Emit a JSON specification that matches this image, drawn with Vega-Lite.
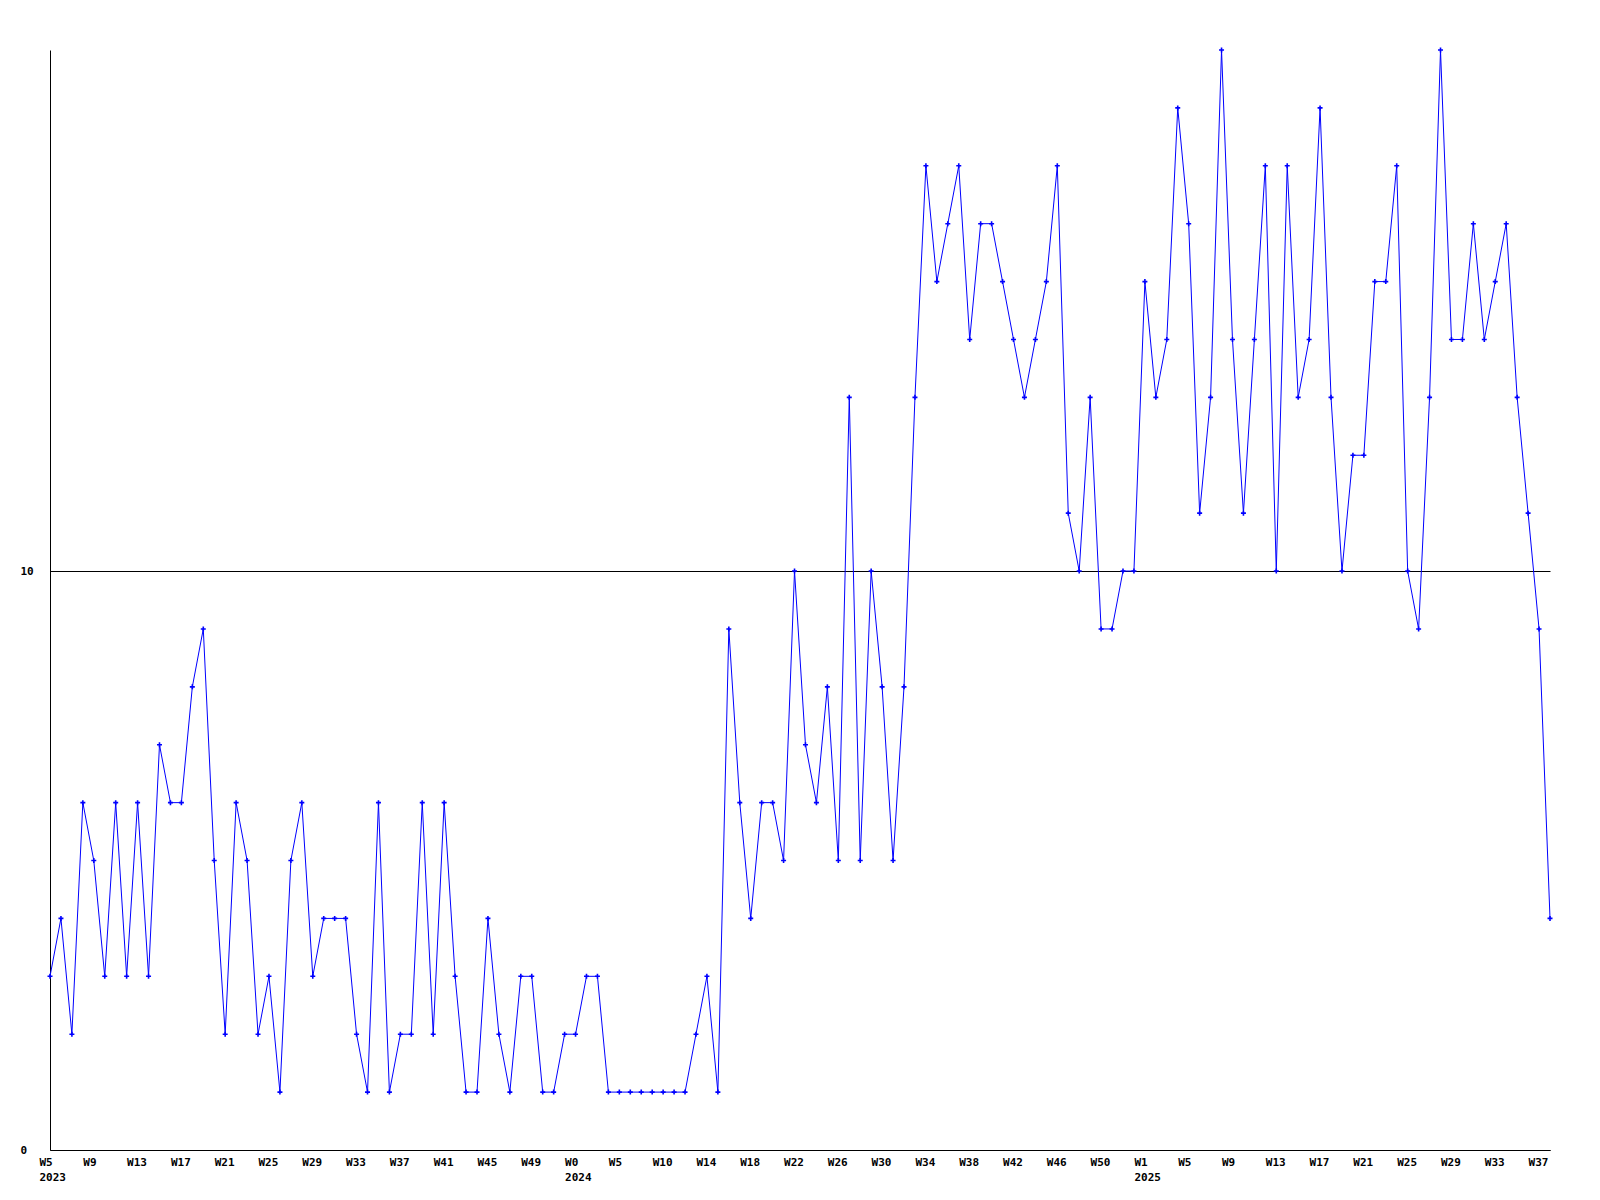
{
  "$schema": "https://vega.github.io/schema/vega-lite/v6.json",
  "width": 1500,
  "height": 1100,
  "autosize": {"type": "none"},
  "padding": {"left": 50, "top": 50, "right": 50, "bottom": 50},
  "background": "white",
  "config": {"view": {"stroke": null}},
  "data": {"values": [
    {"week": 0, "count": 3}, {"week": 1, "count": 4}, {"week": 2, "count": 2}, {"week": 3, "count": 6}, {"week": 4, "count": 5},
    {"week": 5, "count": 3}, {"week": 6, "count": 6}, {"week": 7, "count": 3}, {"week": 8, "count": 6}, {"week": 9, "count": 3},
    {"week": 10, "count": 7}, {"week": 11, "count": 6}, {"week": 12, "count": 6}, {"week": 13, "count": 8}, {"week": 14, "count": 9},
    {"week": 15, "count": 5}, {"week": 16, "count": 2}, {"week": 17, "count": 6}, {"week": 18, "count": 5}, {"week": 19, "count": 2},
    {"week": 20, "count": 3}, {"week": 21, "count": 1}, {"week": 22, "count": 5}, {"week": 23, "count": 6}, {"week": 24, "count": 3},
    {"week": 25, "count": 4}, {"week": 26, "count": 4}, {"week": 27, "count": 4}, {"week": 28, "count": 2}, {"week": 29, "count": 1},
    {"week": 30, "count": 6}, {"week": 31, "count": 1}, {"week": 32, "count": 2}, {"week": 33, "count": 2}, {"week": 34, "count": 6},
    {"week": 35, "count": 2}, {"week": 36, "count": 6}, {"week": 37, "count": 3}, {"week": 38, "count": 1}, {"week": 39, "count": 1},
    {"week": 40, "count": 4}, {"week": 41, "count": 2}, {"week": 42, "count": 1}, {"week": 43, "count": 3}, {"week": 44, "count": 3},
    {"week": 45, "count": 1}, {"week": 46, "count": 1}, {"week": 47, "count": 2}, {"week": 48, "count": 2}, {"week": 49, "count": 3},
    {"week": 50, "count": 3}, {"week": 51, "count": 1}, {"week": 52, "count": 1}, {"week": 53, "count": 1}, {"week": 54, "count": 1},
    {"week": 55, "count": 1}, {"week": 56, "count": 1}, {"week": 57, "count": 1}, {"week": 58, "count": 1}, {"week": 59, "count": 2},
    {"week": 60, "count": 3}, {"week": 61, "count": 1}, {"week": 62, "count": 9}, {"week": 63, "count": 6}, {"week": 64, "count": 4},
    {"week": 65, "count": 6}, {"week": 66, "count": 6}, {"week": 67, "count": 5}, {"week": 68, "count": 10}, {"week": 69, "count": 7},
    {"week": 70, "count": 6}, {"week": 71, "count": 8}, {"week": 72, "count": 5}, {"week": 73, "count": 13}, {"week": 74, "count": 5},
    {"week": 75, "count": 10}, {"week": 76, "count": 8}, {"week": 77, "count": 5}, {"week": 78, "count": 8}, {"week": 79, "count": 13},
    {"week": 80, "count": 17}, {"week": 81, "count": 15}, {"week": 82, "count": 16}, {"week": 83, "count": 17}, {"week": 84, "count": 14},
    {"week": 85, "count": 16}, {"week": 86, "count": 16}, {"week": 87, "count": 15}, {"week": 88, "count": 14}, {"week": 89, "count": 13},
    {"week": 90, "count": 14}, {"week": 91, "count": 15}, {"week": 92, "count": 17}, {"week": 93, "count": 11}, {"week": 94, "count": 10},
    {"week": 95, "count": 13}, {"week": 96, "count": 9}, {"week": 97, "count": 9}, {"week": 98, "count": 10}, {"week": 99, "count": 10},
    {"week": 100, "count": 15}, {"week": 101, "count": 13}, {"week": 102, "count": 14}, {"week": 103, "count": 18}, {"week": 104, "count": 16},
    {"week": 105, "count": 11}, {"week": 106, "count": 13}, {"week": 107, "count": 19}, {"week": 108, "count": 14}, {"week": 109, "count": 11},
    {"week": 110, "count": 14}, {"week": 111, "count": 17}, {"week": 112, "count": 10}, {"week": 113, "count": 17}, {"week": 114, "count": 13},
    {"week": 115, "count": 14}, {"week": 116, "count": 18}, {"week": 117, "count": 13}, {"week": 118, "count": 10}, {"week": 119, "count": 12},
    {"week": 120, "count": 12}, {"week": 121, "count": 15}, {"week": 122, "count": 15}, {"week": 123, "count": 17}, {"week": 124, "count": 10},
    {"week": 125, "count": 9}, {"week": 126, "count": 13}, {"week": 127, "count": 19}, {"week": 128, "count": 14}, {"week": 129, "count": 14},
    {"week": 130, "count": 16}, {"week": 131, "count": 14}, {"week": 132, "count": 15}, {"week": 133, "count": 16}, {"week": 134, "count": 13},
    {"week": 135, "count": 11}, {"week": 136, "count": 9}, {"week": 137, "count": 4}
  ]},
  "encoding": {
    "x": {
      "field": "week", "type": "quantitative",
      "scale": {"domain": [0, 137], "nice": false, "zero": false},
      "axis": {
        "title": null,
        "values": [0,4,8,12,16,20,24,28,32,36,40,44,48,52,56,60,64,68,72,76,80,84,88,92,96,100,104,108,112,116,120,124,128,132,136],
        "labelExpr": "[['W5','2023'],'W9','W13','W17','W21','W25','W29','W33','W37','W41','W45','W49',['W0','2024'],'W5','W10','W14','W18','W22','W26','W30','W34','W38','W42','W46','W50',['W1','2025'],'W5','W9','W13','W17','W21','W25','W29','W33','W37'][datum.value/4]",
        "ticks": false, "tickSize": 0, "grid": false,
        "domainColor": "black", "domainWidth": 1,
        "labelFont": "DejaVu Sans Mono", "labelFontWeight": "bold", "labelFontSize": 11, "labelColor": "black",
        "labelAlign": "left", "labelBaseline": "top", "labelOffset": -11, "labelPadding": 6,
        "labelLineHeight": 15,
        "labelOverlap": false, "labelFlush": false, "labelBound": false
      }
    },
    "y": {
      "field": "count", "type": "quantitative",
      "scale": {"domain": [0, 19], "nice": false, "zero": true},
      "axis": {
        "title": null,
        "values": [0, 10],
        "ticks": false, "tickSize": 0,
        "grid": true, "gridColor": "black", "gridOpacity": 1, "gridWidth": 1,
        "domainColor": "black", "domainWidth": 1,
        "labelFont": "DejaVu Sans Mono", "labelFontWeight": "bold", "labelFontSize": 11, "labelColor": "black",
        "labelAlign": "left", "labelBaseline": "middle", "labelPadding": 30,
        "labelOverlap": false, "labelFlush": false, "labelBound": false
      }
    }
  },
  "layer": [
    {"mark": {"type": "line", "color": "#0000ff", "strokeWidth": 1}},
    {"mark": {"type": "point", "shape": "M-1,0H1M0,-1V1", "filled": false, "stroke": "#0000ff", "strokeWidth": 1.6, "size": 25, "opacity": 1}}
  ]
}
